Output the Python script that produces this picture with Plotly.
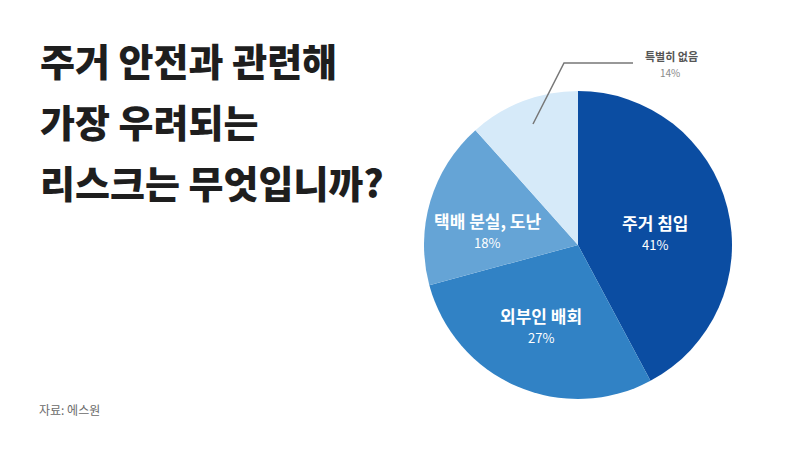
import plotly.graph_objects as go

categories = ["주거 침입", "외부인 배회", "택배 분실, 도난", "특별히 없음"]
values = [42.2, 28.6, 17.6, 11.6]
pct_labels = ["41%", "27%", "18%", "14%"]
colors = ["#0b4da2", "#3182c5", "#65a4d6", "#d6eaf9"]

title_lines = ["주거 안전과 관련해", "가장 우려되는", "리스크는 무엇입니까?"]
source = "자료: 에스원"

W, H = 800, 450
FONT = "Noto Sans CJK KR"


def px(x):
    return x / W


def py(y):
    return 1 - y / H


# pie: centre (578, 245), radius 154
cx, cy, r = 578, 245, 154

fig = go.Figure(go.Pie(
    labels=categories,
    values=values,
    marker=dict(colors=colors, line=dict(width=0)),
    sort=False,
    direction="clockwise",
    rotation=0,
    textinfo="none",
    hoverinfo="label+percent",
    showlegend=False,
    domain=dict(x=[px(cx - r), px(cx + r)], y=[py(cy + r), py(cy - r)]),
))

annotations = []

# title, one line at a time
for i, line in enumerate(title_lines):
    annotations.append(dict(
        text=line, x=px(38), y=py(59 + i * 61.5),
        xanchor="left", yanchor="middle", showarrow=False,
        font=dict(family=FONT, size=38, color="#1e1e1e", weight=900),
    ))

annotations.append(dict(
    text=source, x=px(37), y=py(409), xanchor="left", yanchor="middle",
    showarrow=False, font=dict(family=FONT, size=12, color="#6b6b6b"),
))

# label spots inside the slices (x, name centre y, percent centre y)
inside_pos = [(655, 222, 245), (541, 315, 337), (487, 221, 242)]
for (lx, ny, vy), name, pct in zip(inside_pos, categories[:3], pct_labels[:3]):
    annotations.append(dict(
        text=f"<b>{name}</b>", x=px(lx), y=py(ny), xanchor="center",
        yanchor="middle", showarrow=False,
        font=dict(family=FONT, size=17, color="white"),
    ))
    annotations.append(dict(
        text=pct, x=px(lx), y=py(vy), xanchor="center", yanchor="middle",
        showarrow=False, font=dict(family=FONT, size=13, color="white"),
    ))

# outside label for the small slice
annotations.append(dict(
    text=f"<b>{categories[3]}</b>", x=px(671), y=py(56), xanchor="center",
    yanchor="middle", showarrow=False, borderpad=0,
    font=dict(family=FONT, size=11, color="#555555"),
))
annotations.append(dict(
    text=pct_labels[3], x=px(670), y=py(72), xanchor="center",
    yanchor="middle", showarrow=False, borderpad=0,
    font=dict(family=FONT, size=10, color="#8a8a8a"),
))

leader = dict(
    type="path", xref="paper", yref="paper",
    path=f"M {px(533)},{py(124)} L {px(564)},{py(63)} L {px(633)},{py(63)}",
    line=dict(color="#777777", width=1.5),
)

fig.update_layout(
    width=W, height=H,
    margin=dict(l=0, r=0, t=0, b=0),
    paper_bgcolor="white",
    plot_bgcolor="white",
    annotations=annotations,
    shapes=[leader],
)

# drop the browser's default 8px body margin so the figure sits at 0,0
fig.write_html("out.html", config={"displayModeBar": False},
               post_script="document.body.style.margin='0';")
